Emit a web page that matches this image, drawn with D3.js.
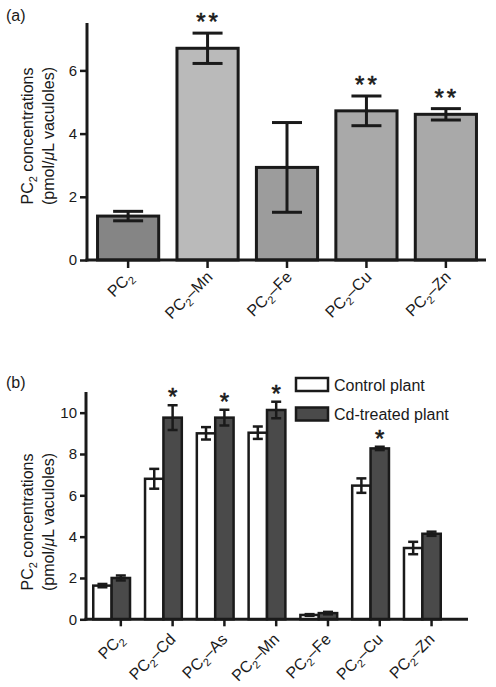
<!DOCTYPE html>
<html><head><meta charset="utf-8">
<script src="https://cdn.jsdelivr.net/npm/d3@7"></script>
<style>
body{margin:0;background:#fff;}
text{font-family:"Liberation Sans",Arial,Helvetica,sans-serif;fill:#1a1a1a;}
</style></head>
<body><svg id="c" width="496" height="687"></svg>
<script>
// ---- Data, panel (a)
const catsA = ["PC2", "PC2–Mn", "PC2–Fe", "PC2–Cu", "PC2–Zn"];
const valsA = [1.39, 6.70, 2.93, 4.72, 4.61];
const errA  = [0.15, 0.48, 1.42, 0.47, 0.18];
const sigA  = ["", "**", "", "**", "**"];
const fillA = ["#858585", "#bababa", "#9c9c9c", "#a9a9a9", "#a9a9a9"];
const ticksA = [0, 2, 4, 6];

// ---- Data, panel (b)
const catsB = ["PC2", "PC2–Cd", "PC2–As", "PC2–Mn", "PC2–Fe", "PC2–Cu", "PC2–Zn"];
const seriesB = ["Control plant", "Cd-treated plant"];
const controlB = [1.63, 6.80, 9.00, 9.03, 0.21, 6.47, 3.45];
const controlErrB = [0.08, 0.48, 0.30, 0.30, 0.04, 0.35, 0.30];
const cdB = [2.00, 9.76, 9.76, 10.13, 0.30, 8.27, 4.14];
const cdErrB = [0.12, 0.60, 0.38, 0.40, 0.06, 0.08, 0.10];
const sigB = ["", "*", "*", "*", "", "*", ""];
const ticksB = [0, 2, 4, 6, 8, 10];
const fillB = ["#ffffff", "#4a4a4a"];

const svg = d3.select("#c");
const ink = "#1a1a1a";

function yLabel(g, cx1, cx2, cy){
  const t1 = g.append("text").attr("transform",`translate(${cx1},${cy}) rotate(-90)`)
    .attr("text-anchor","middle").attr("font-size","16px");
  t1.append("tspan").text("PC");
  t1.append("tspan").attr("font-size","11px").attr("dy","4").text("2");
  t1.append("tspan").attr("dy","-4").text(" concentrations");
  const t2 = g.append("text").attr("transform",`translate(${cx2},${cy}) rotate(-90)`)
    .attr("text-anchor","middle").attr("font-size","16px");
  t2.append("tspan").text("(pmol/");
  t2.append("tspan").attr("font-style","italic").text("μ");
  t2.append("tspan").text("L vaculoles)");
}

// rotated category label, single text with subscript tspan
function xLabel(label, px, py){
  const t = svg.append("text").attr("class","xlab")
    .attr("transform",`translate(${px},${py}) rotate(-45)`)
    .attr("text-anchor","end").attr("font-size","16px");
  t.append("tspan").text("PC");
  t.append("tspan").attr("font-size","11px").attr("dy","4").text("2");
  const rest = label.slice(3);
  if(rest) t.append("tspan").attr("dy","-4").text(rest);
}

// ================= Panel (a)
{
  const g = svg.append("g");
  const x0 = 87, x1 = 486, yTop = 23, yBot = 260;
  const y = d3.scaleLinear().domain([0, 7.5]).range([yBot, yTop]);
  const x = d3.scaleBand().domain(catsA).range([88, 486]).paddingInner(0.23).paddingOuter(0.12);

  g.append("text").attr("x",6).attr("y",21).attr("font-size","16px").text("(a)");

  g.selectAll("rect.bar").data(catsA).join("rect").attr("class","bar")
    .attr("x", d=>x(d)).attr("width", x.bandwidth())
    .attr("y", (d,i)=>y(valsA[i])).attr("height",(d,i)=>y(0)-y(valsA[i]))
    .attr("fill",(d,i)=>fillA[i]).attr("stroke",ink).attr("stroke-width",3);

  const eb = g.selectAll("g.eb").data(catsA).join("g").attr("class","eb")
    .attr("stroke",ink).attr("stroke-width",3);
  eb.append("line").attr("x1",d=>x(d)+x.bandwidth()/2).attr("x2",d=>x(d)+x.bandwidth()/2)
    .attr("y1",(d,i)=>y(valsA[i]+errA[i])).attr("y2",(d,i)=>y(valsA[i]-errA[i]));
  eb.append("line").attr("x1",d=>x(d)+x.bandwidth()/2-15).attr("x2",d=>x(d)+x.bandwidth()/2+15)
    .attr("y1",(d,i)=>y(valsA[i]+errA[i])).attr("y2",(d,i)=>y(valsA[i]+errA[i]));
  eb.append("line").attr("x1",d=>x(d)+x.bandwidth()/2-15).attr("x2",d=>x(d)+x.bandwidth()/2+15)
    .attr("y1",(d,i)=>y(valsA[i]-errA[i])).attr("y2",(d,i)=>y(valsA[i]-errA[i]));

  g.selectAll("text.sig").data(catsA).join("text").attr("class","sig")
    .attr("x",d=>x(d)+x.bandwidth()/2+1).attr("y",(d,i)=>y(valsA[i]+errA[i])-3)
    .attr("text-anchor","middle").attr("font-size","24px").attr("letter-spacing","3px")
    .attr("stroke",ink).attr("stroke-width",0.6)
    .text((d,i)=>sigA[i]);

  const ya = g.append("g").attr("transform",`translate(${x0},0)`)
    .call(d3.axisLeft(y).tickValues(ticksA).tickSize(7).tickPadding(3).tickSizeOuter(0).tickFormat(d3.format("d")));
  ya.select(".domain").remove();
  ya.selectAll("line").attr("stroke",ink).attr("stroke-width",2.5);
  ya.selectAll("text").attr("font-size","15px").attr("fill",ink).style("font-family",'"Liberation Sans",Arial,sans-serif');
  g.append("line").attr("x1",x0).attr("x2",x0).attr("y1",yTop).attr("y2",yBot+1.5).attr("stroke",ink).attr("stroke-width",3);

  const xa = g.append("g").attr("transform",`translate(0,${yBot})`)
    .call(d3.axisBottom(x).tickSize(8).tickSizeOuter(0));
  xa.select(".domain").remove();
  xa.selectAll(".tick text").remove();
  xa.selectAll("line").attr("stroke",ink).attr("stroke-width",2.5);
  g.append("line").attr("x1",x0-1.5).attr("x2",x1).attr("y1",yBot).attr("y2",yBot).attr("stroke",ink).attr("stroke-width",3);

  catsA.forEach(c=> xLabel(c, x(c)+x.bandwidth()/2+6, yBot+18));

  yLabel(g, 33, 54, 136);
}

// ================= Panel (b)
{
  const g = svg.append("g");
  const x0 = 86, x1 = 468, yTop = 392, yBot = 619.3;
  const y = d3.scaleLinear().domain([0, 11]).range([yBot, yTop]);
  const x = d3.scaleBand().domain(catsB).range([86, 448]).paddingInner(0.29).paddingOuter(0.14);
  const xs = d3.scaleBand().domain(seriesB).range([0, x.bandwidth()]);
  const xt = x.copy().range([86 + x.bandwidth()/4, 448 + x.bandwidth()/4]);

  g.append("text").attr("x",6).attr("y",388).attr("font-size","16px").text("(b)");

  const vals = [controlB, cdB], errs = [controlErrB, cdErrB];
  seriesB.forEach((s, si)=>{
    g.selectAll(`rect.s${si}`).data(catsB).join("rect").attr("class",`s${si}`)
      .attr("x", d=>x(d)+xs(s)).attr("width", xs.bandwidth())
      .attr("y",(d,i)=>y(vals[si][i])).attr("height",(d,i)=>y(0)-y(vals[si][i]))
      .attr("fill",fillB[si]).attr("stroke",ink).attr("stroke-width",2.5);
  });
  seriesB.forEach((s, si)=>{
    const cx = d=>x(d)+xs(s)+xs.bandwidth()/2;
    const e = g.selectAll(`g.e${si}`).data(catsB).join("g").attr("class",`e${si}`)
      .attr("stroke",ink).attr("stroke-width",2.5);
    e.append("line").attr("x1",cx).attr("x2",cx)
      .attr("y1",(d,i)=>y(vals[si][i]+errs[si][i])).attr("y2",(d,i)=>y(vals[si][i]-errs[si][i]));
    e.append("line").attr("x1",d=>cx(d)-5).attr("x2",d=>cx(d)+5)
      .attr("y1",(d,i)=>y(vals[si][i]+errs[si][i])).attr("y2",(d,i)=>y(vals[si][i]+errs[si][i]));
    e.append("line").attr("x1",d=>cx(d)-5).attr("x2",d=>cx(d)+5)
      .attr("y1",(d,i)=>y(vals[si][i]-errs[si][i])).attr("y2",(d,i)=>y(vals[si][i]-errs[si][i]));
  });

  g.selectAll("text.sig").data(catsB).join("text").attr("class","sig")
    .attr("x",d=>x(d)+xs(seriesB[1])+xs.bandwidth()/2)
    .attr("y",(d,i)=>y(cdB[i]+cdErrB[i]))
    .attr("text-anchor","middle").attr("font-size","24px")
    .attr("stroke",ink).attr("stroke-width",0.6)
    .text((d,i)=>sigB[i]);

  const ya = g.append("g").attr("transform",`translate(${x0},0)`)
    .call(d3.axisLeft(y).tickValues(ticksB).tickSize(6).tickPadding(3).tickSizeOuter(0).tickFormat(d3.format("d")));
  ya.select(".domain").remove();
  ya.selectAll("line").attr("stroke",ink).attr("stroke-width",2.5);
  ya.selectAll("text").attr("font-size","15px").attr("fill",ink).style("font-family",'"Liberation Sans",Arial,sans-serif');
  g.append("line").attr("x1",x0).attr("x2",x0).attr("y1",yTop).attr("y2",yBot+1.5).attr("stroke",ink).attr("stroke-width",3);

  const xa = g.append("g").attr("transform",`translate(0,${yBot})`)
    .call(d3.axisBottom(xt).tickSize(7).tickSizeOuter(0));
  xa.select(".domain").remove();
  xa.selectAll(".tick text").remove();
  xa.selectAll("line").attr("stroke",ink).attr("stroke-width",2.5);
  g.append("line").attr("x1",x0-1.5).attr("x2",x1).attr("y1",yBot).attr("y2",yBot).attr("stroke",ink).attr("stroke-width",3);

  catsB.forEach(c=> xLabel(c, xt(c)+xt.bandwidth()/2+4, yBot+21));

  yLabel(g, 33, 54, 522);

  const lg = g.append("g");
  seriesB.forEach((s, si)=>{
    lg.append("rect").attr("x",296).attr("y",378+si*29.5).attr("width",32).attr("height",13)
      .attr("fill",fillB[si]).attr("stroke",ink).attr("stroke-width",2.5);
    lg.append("text").attr("x",334).attr("y",390.5+si*29.5)
      .attr("font-size","16px").text(s);
  });
}
</script></body></html>
